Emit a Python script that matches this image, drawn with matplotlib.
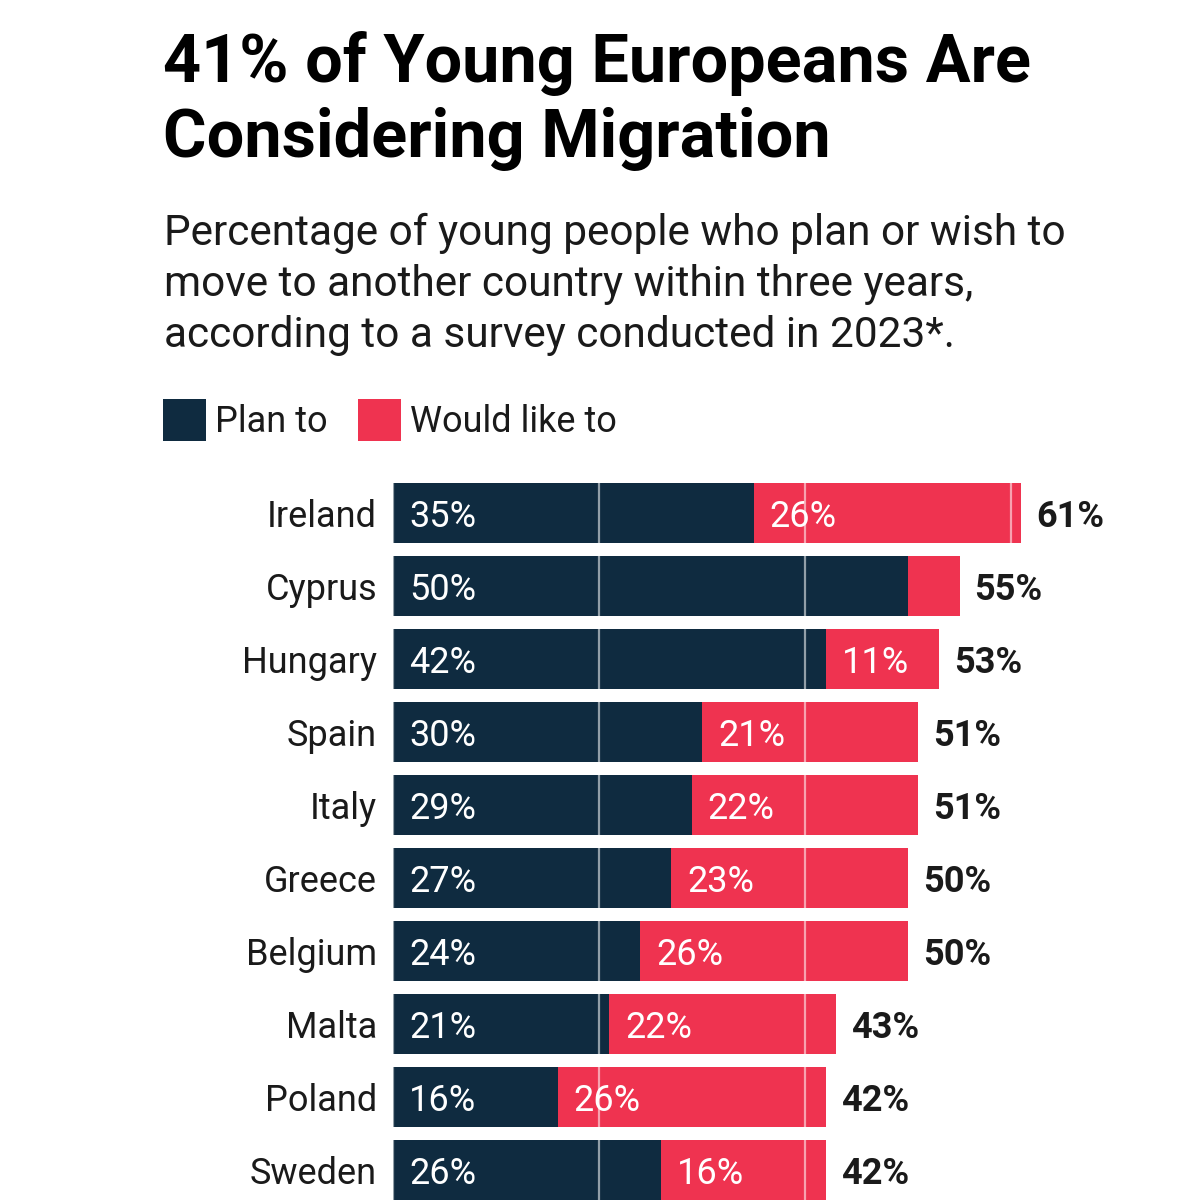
import matplotlib.pyplot as plt
import numpy as np

plt.rcParams["font.family"] = ["Roboto", "DejaVu Sans"]

NAVY = "#0f2b40"
RED = "#ef3350"

countries = ["Ireland", "Cyprus", "Hungary", "Spain", "Italy",
             "Greece", "Belgium", "Malta", "Poland", "Sweden"]
plan_to = [35, 50, 42, 30, 29, 27, 24, 21, 16, 26]
would_like = [26, 5, 11, 21, 22, 23, 26, 22, 26, 16]
totals = [61, 55, 53, 51, 51, 50, 50, 43, 42, 42]

W, H = 1200, 1200
fig = plt.figure(figsize=(W / 100, H / 100), dpi=100)


def fy(px):
    return 1 - px / H


# titles
fig.text(163 / W, fy(82), "41% of Young Europeans Are", fontsize=48,
         fontweight="bold", va="baseline", ha="left", color="black")
fig.text(163 / W, fy(157), "Considering Migration", fontsize=48,
         fontweight="bold", va="baseline", ha="left", color="black")
sub = ["Percentage of young people who plan or wish to",
       "move to another country within three years,",
       "according to a survey conducted in 2023*."]
for i, line in enumerate(sub):
    fig.text(164 / W, fy(245 + 51 * i), line, fontsize=30.5, va="baseline",
             ha="left", color="#1a1a1a")

# chart area
ax = fig.add_axes([393 / W, 0, (W - 393) / W, 730 / H])
y = np.arange(len(countries))
b1 = ax.barh(y, plan_to, height=0.82, color=NAVY, label="Plan to", zorder=2)
b2 = ax.barh(y, would_like, left=plan_to, height=0.82, color=RED,
             label="Would like to", zorder=2)
for gx in [0, 20, 40, 60]:
    ax.axvline(gx, color="white", alpha=0.55, lw=1.6, zorder=3)

ax.set_xlim(0, (W - 393) / 10.3)
ax.set_ylim(9.41, -0.589)
ax.set_yticks(y)
ax.set_yticklabels(countries, fontsize=26, color="#1a1a1a")
ax.tick_params(axis="y", length=0, pad=11.5)
ax.set_xticks([])
for s in ax.spines.values():
    s.set_visible(False)

for i in range(len(countries)):
    ax.text(1.55, i, f"{plan_to[i]}%", color="white", fontsize=26,
            va="center_baseline", ha="left", zorder=4)
    if would_like[i] >= 10:
        ax.text(plan_to[i] + 1.55, i, f"{would_like[i]}%", color="white",
                fontsize=26, va="center_baseline", ha="left", zorder=4)
    ax.text(totals[i] + 1.45, i, f"{totals[i]}%", color="#1a1a1a",
            fontsize=26, fontweight="bold", va="center_baseline", ha="left",
            zorder=4)

# legend
fig.legend(handles=[b1, b2], loc="upper left",
           bbox_to_anchor=(163 / W, fy(399)), frameon=False, ncol=2,
           fontsize=26, handlelength=1.19, handleheight=1.41,
           handletextpad=0.25, columnspacing=0.85, borderaxespad=0,
           borderpad=0, labelcolor="#1a1a1a")

fig.savefig("out.png", dpi=100)
